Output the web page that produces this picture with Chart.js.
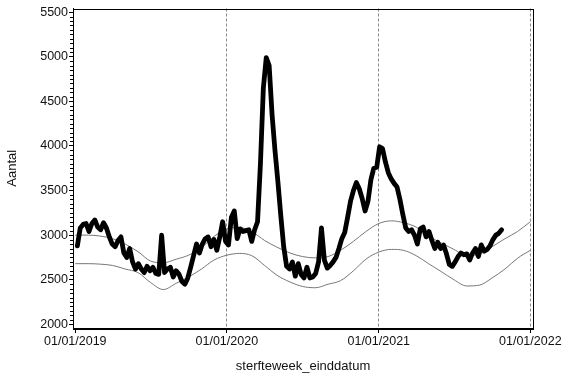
<!DOCTYPE html>
<html>
<head>
<meta charset="utf-8">
<script src="https://cdn.jsdelivr.net/npm/chart.js@4.4.1/dist/chart.umd.min.js"></script>
<style>
  html, body { margin: 0; padding: 0; background: #fff; }
  #wrap { width: 567px; height: 378px; }
</style>
</head>
<body>
<div id="wrap"><canvas id="chart" width="567" height="378"></canvas></div>
<script>
// weekly deaths, first week ends on firstWeekEnd, one value per week
const firstWeekEnd = '2019-01-06';
const deaths = [
  2880, 3080, 3120, 3130, 3040, 3130, 3170, 3090, 3060, 3140,
  3080, 2980, 2900, 2870, 2940, 2980, 2800, 2750, 2850, 2700,
  2620, 2680, 2620, 2580, 2650, 2600, 2640, 2570, 2560, 3000,
  2580, 2620, 2640, 2530, 2600, 2560, 2480, 2450, 2520, 2640,
  2770, 2900, 2800, 2900, 2960, 2980, 2870, 2950, 2830, 2980,
  3150, 2930, 2890, 3200, 3270, 2960, 3070, 3040, 3050, 3060,
  2930, 3060, 3150, 3800, 4650, 4990, 4900, 4350, 3950, 3600,
  3220, 2870, 2650, 2620, 2700, 2540, 2680, 2560, 2520, 2640,
  2520, 2530, 2570, 2700, 3080, 2720, 2630, 2660, 2700, 2750,
  2850, 2960, 3030, 3200, 3380, 3500, 3590, 3520, 3410, 3270,
  3380, 3620, 3750, 3760, 3990, 3970, 3820, 3700, 3630, 3580,
  3540, 3400, 3230, 3080, 3040, 3060, 3000, 2900, 3070, 3090,
  2980, 3040, 2940, 2850, 2920, 2850, 2890, 2790, 2670, 2650,
  2700, 2760, 2800, 2780, 2790, 2720, 2800, 2850, 2760, 2890,
  2820, 2840, 2880, 2950, 3000, 3020, 3060
];

// expected bounds, read monthly
const bandDates = [
  '2019-01-01', '2019-02-01', '2019-03-01', '2019-04-01', '2019-05-01', '2019-06-01',
  '2019-07-01', '2019-08-01', '2019-09-01', '2019-10-01', '2019-11-01', '2019-12-01',
  '2020-01-01', '2020-02-01', '2020-03-01', '2020-04-01', '2020-05-01', '2020-06-01',
  '2020-07-01', '2020-08-01', '2020-09-01', '2020-10-01', '2020-11-01', '2020-12-01',
  '2021-01-01', '2021-02-01', '2021-03-01', '2021-04-01', '2021-05-01', '2021-06-01',
  '2021-07-01', '2021-08-01', '2021-09-01', '2021-10-01', '2021-11-01', '2021-12-01',
  '2022-01-01'
];
const upperBand = [
  3000, 3000, 2990, 2960, 2900, 2815, 2710, 2690, 2730, 2775, 2860, 2985,
  3070, 3085, 3040, 2940, 2865, 2800, 2760, 2745, 2760, 2830, 2930, 3040,
  3130, 3160, 3140, 3090, 2990, 2910, 2840, 2770, 2790, 2870, 2960, 3040,
  3150
];
const lowerBand = [
  2680, 2680, 2675, 2660, 2620, 2580, 2470, 2390, 2460, 2530, 2620, 2720,
  2775, 2795, 2770, 2660, 2550, 2475, 2425, 2410, 2450, 2490, 2600, 2730,
  2810, 2840, 2830, 2770, 2680, 2590, 2500, 2430, 2440, 2520, 2620, 2740,
  2830
];

const xTickLabels = ['01/01/2019', '01/01/2020', '01/01/2021', '01/01/2022'];
const yTickValues = [2000, 2500, 3000, 3500, 4000, 4500, 5000, 5500];

const DAY = 86400000;
const origin = Date.UTC(2019, 0, 1);
const isoToDay = s => {
  const [y, m, d] = s.split('-').map(Number);
  return (Date.UTC(y, m - 1, d) - origin) / DAY;
};
const labelToDay = s => {
  const [d, m, y] = s.split('/').map(Number);
  return (Date.UTC(y, m - 1, d) - origin) / DAY;
};

const start = isoToDay(firstWeekEnd);
const deathPoints = deaths.map((v, i) => ({ x: start + 7 * i, y: v }));
const upperPoints = upperBand.map((v, i) => ({ x: isoToDay(bandDates[i]), y: v }));
const lowerPoints = lowerBand.map((v, i) => ({ x: isoToDay(bandDates[i]), y: v }));
const xTickDays = xTickLabels.map(labelToDay);

const font = { family: "'Liberation Sans', Arial, sans-serif", size: 12.5 };

// frame round the plot and the small y ticks
const framePlugin = {
  id: 'frame',
  afterDraw(chart) {
    const { ctx, chartArea: a } = chart;
    const y = chart.scales.y;
    const left = Math.round(a.left);
    ctx.save();
    ctx.strokeStyle = '#000';
    ctx.lineWidth = 1;
    ctx.beginPath();
    for (let v = 2000; v <= 5500; v += 50) {
      if (v % 500 === 0) continue;
      const py = Math.round(y.getPixelForValue(v)) + 0.5;
      ctx.moveTo(left - 3, py);
      ctx.lineTo(left + 0.5, py);
    }
    ctx.stroke();
    ctx.strokeRect(left + 0.5, Math.round(a.top) + 0.5,
      Math.round(a.right - a.left), Math.round(a.bottom - a.top));
    ctx.restore();
  }
};

new Chart(document.getElementById('chart'), {
  type: 'line',
  data: {
    datasets: [
      {
        data: deathPoints,
        borderColor: '#000',
        borderWidth: 4.8,
        pointRadius: 0,
        tension: 0,
        borderJoinStyle: 'round',
        borderCapStyle: 'round'
      },
      {
        data: upperPoints,
        borderColor: '#777',
        borderWidth: 1,
        pointRadius: 0,
        cubicInterpolationMode: 'monotone'
      },
      {
        data: lowerPoints,
        borderColor: '#777',
        borderWidth: 1,
        pointRadius: 0,
        cubicInterpolationMode: 'monotone'
      }
    ]
  },
  options: {
    responsive: false,
    animation: false,
    devicePixelRatio: 1,
    layout: { padding: { top: 3, right: 34, left: 0, bottom: 0 } },
    plugins: { legend: { display: false }, tooltip: { enabled: false } },
    scales: {
      x: {
        type: 'linear',
        min: -5.5,
        max: 1102.5,
        afterBuildTicks: s => { s.ticks = xTickDays.map(v => ({ value: v })); },
        afterFit: s => { s.height = 50; },
        ticks: {
          callback: (v, i) => xTickLabels[i],
          font, color: '#111', padding: 1, maxRotation: 0, autoSkip: false
        },
        grid: {
          color: ctx => (ctx.tick && ctx.tick.value === 0 ? 'rgba(0,0,0,0)' : '#8a8a8a'),
          tickColor: '#000',
          tickLength: 5,
          lineWidth: 1
        },
        border: { display: true, color: '#000', dash: [3, 2] },
        title: {
          display: true,
          text: 'sterfteweek_einddatum',
          font: { family: font.family, size: 13 },
          color: '#111',
          padding: { top: 0, bottom: 4 }
        }
      },
      y: {
        min: 1959,
        max: 5540,
        afterBuildTicks: s => { s.ticks = yTickValues.map(v => ({ value: v })); },
        afterFit: s => { s.width = 73; },
        ticks: { font, color: '#111', padding: 1, callback: v => String(v) },
        grid: { drawOnChartArea: false, tickColor: '#000', tickLength: 4 },
        border: { display: true, color: '#000' },
        title: {
          display: true,
          text: 'Aantal',
          font: { family: font.family, size: 13 },
          color: '#111',
          padding: { top: 5, bottom: 0 }
        }
      }
    }
  },
  plugins: [framePlugin]
});
</script>
</body>
</html>
